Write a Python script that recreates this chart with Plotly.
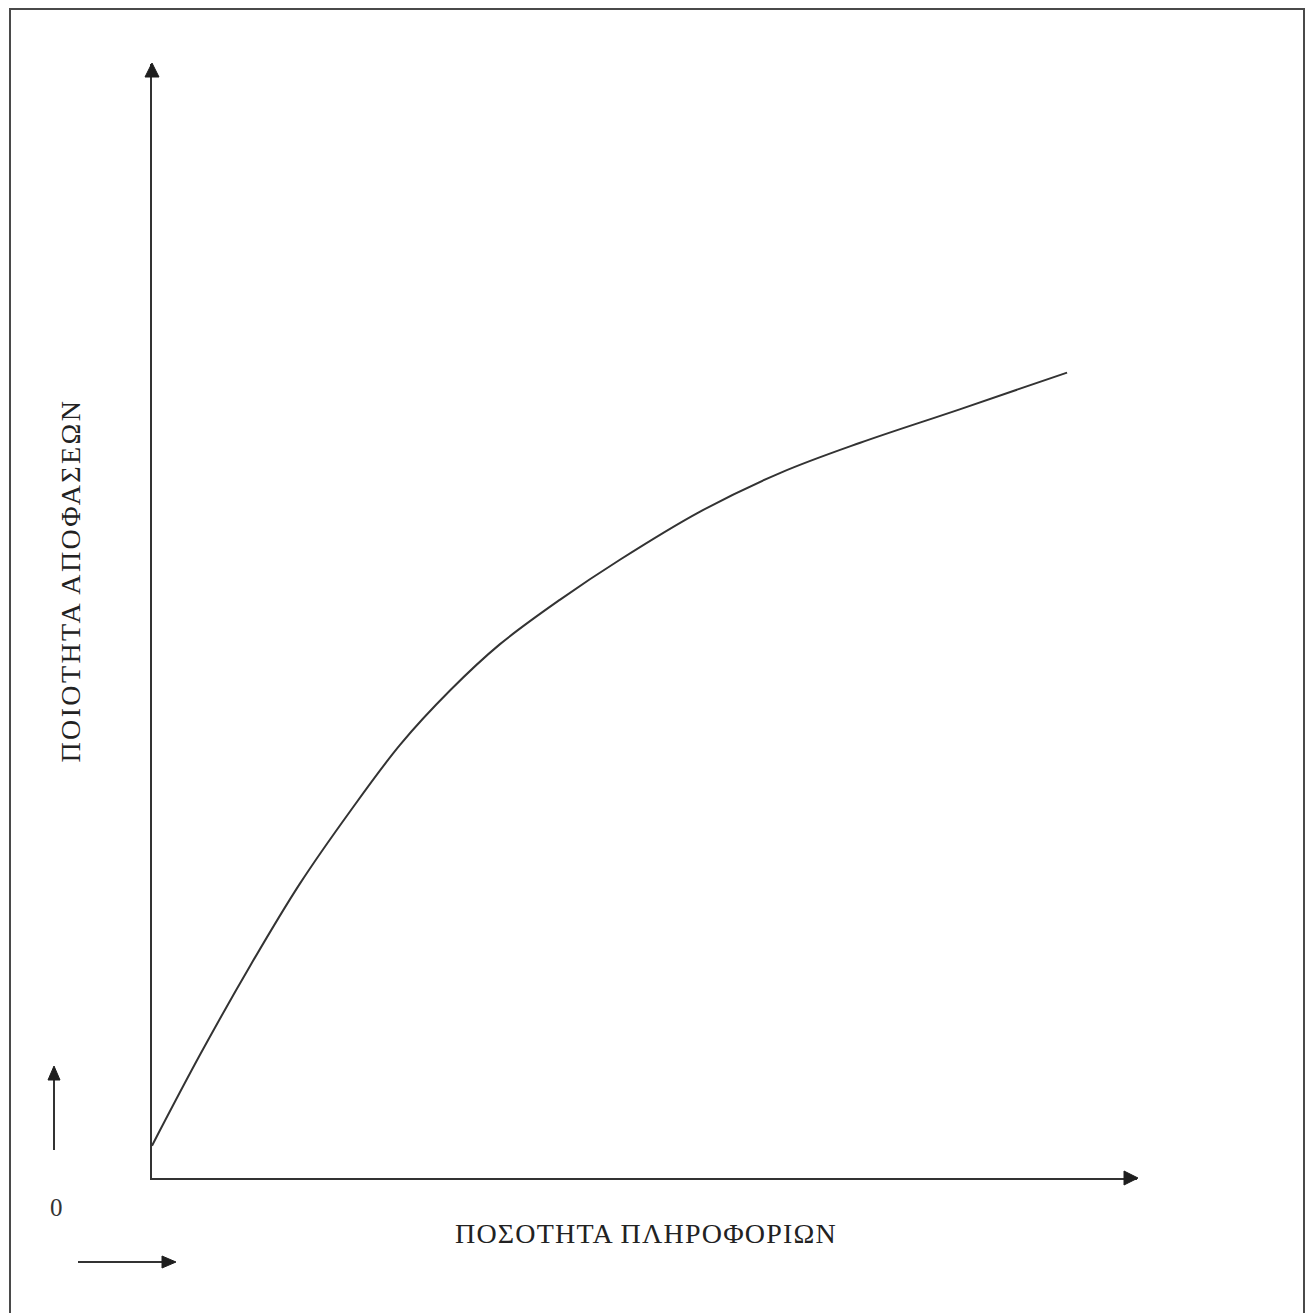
import plotly.graph_objects as go

# Curve: quality of decisions vs quantity of information (arbitrary units, axes 0..10)
info_quantity = [0, 0.49, 1.00, 1.50, 2.01, 2.52, 3.03, 3.53, 4.14, 4.75, 5.56, 6.38, 7.19, 8.20, 9.29]
decision_quality = [0.29, 1.11, 1.91, 2.64, 3.29, 3.89, 4.38, 4.79, 5.19, 5.55, 5.98, 6.33, 6.60, 6.90, 7.23]

x_title = "ΠΟΣΟΤΗΤΑ ΠΛΗΡΟΦΟΡΙΩΝ"
y_title = "ΠΟΙΟΤΗΤΑ ΑΠΟΦΑΣΕΩΝ"
origin_label = "0"

FW, FH = 1308, 1313
L, R, T, B = 152, 1137, 64, 1178
W, H = R - L, B - T

def px(x):
    return (x - L) / W

def py(y):
    return (B - y) / H

LINE = "#333333"
FONT = "Liberation Serif, Times New Roman, serif"

fig = go.Figure()
fig.add_trace(go.Scatter(
    x=info_quantity, y=decision_quality, mode="lines",
    line=dict(color=LINE, width=2, shape="spline", smoothing=1),
    hoverinfo="skip", showlegend=False,
))

shapes = []
# page frame
shapes.append(dict(type="rect", xref="paper", yref="paper",
                   x0=px(10), x1=px(1304), y0=py(9), y1=py(1330),
                   line=dict(color="#4a4a4a", width=2), layer="below"))

def tri(points):
    d = "M " + " L ".join(f"{px(a)},{py(b)}" for a, b in points) + " Z"
    return dict(type="path", xref="paper", yref="paper", path=d,
                fillcolor="#1e1e1e", line=dict(color="#1e1e1e", width=1))

def seg(x0, y0, x1, y1):
    return dict(type="line", xref="paper", yref="paper",
                x0=px(x0), y0=py(y0), x1=px(x1), y1=py(y1),
                line=dict(color=LINE, width=2))

# axis arrowheads
shapes.append(tri([(152, 63), (145, 77), (159, 77)]))
shapes.append(tri([(1138, 1178), (1124, 1171), (1124, 1185)]))
# small direction arrows
shapes.append(seg(54, 1150, 54, 1078))
shapes.append(tri([(54, 1066), (48, 1080), (60, 1080)]))
shapes.append(seg(78, 1262, 164, 1262))
shapes.append(tri([(176, 1262), (162, 1256), (162, 1268)]))

annotations = [
    dict(text=y_title, xref="paper", yref="paper", x=px(70), y=py(581),
         textangle=-90, showarrow=False, font=dict(family=FONT, size=28, color="#222222"),
         xanchor="center", yanchor="middle"),
    dict(text=x_title, xref="paper", yref="paper", x=px(646), y=py(1233),
         showarrow=False, font=dict(family=FONT, size=28, color="#222222"),
         xanchor="center", yanchor="middle"),
    dict(text=origin_label, xref="paper", yref="paper", x=px(56), y=py(1207),
         showarrow=False, font=dict(family=FONT, size=25, color="#333333"),
         xanchor="center", yanchor="middle"),
]

axis_common = dict(showgrid=False, zeroline=False, showticklabels=False, ticks="",
                   showline=True, linecolor=LINE, linewidth=2, fixedrange=True)
fig.update_layout(
    width=FW, height=FH,
    margin=dict(l=L, r=FW - R, t=T, b=FH - B, pad=0),
    paper_bgcolor="white", plot_bgcolor="white",
    xaxis=dict(range=[0, 10], **axis_common),
    yaxis=dict(range=[0, 10], **axis_common),
    shapes=shapes, annotations=annotations, showlegend=False,
)

post = """
document.body.style.margin = '0';
document.body.style.overflow = 'hidden';
var t = document.querySelectorAll('.annotation-text');
if (t.length >= 2) { t[0].style.letterSpacing = '2.4px'; t[1].style.letterSpacing = '1.2px'; }
"""
fig.write_html("out.html", config={"displayModeBar": False}, post_script=post)
